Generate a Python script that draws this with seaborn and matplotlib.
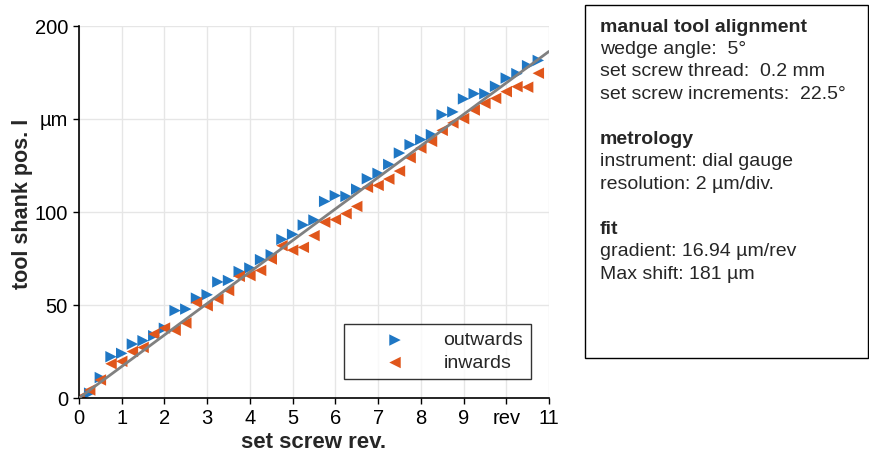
import numpy as np
import pandas as pd
import matplotlib
matplotlib.use("Agg")
import matplotlib.pyplot as plt
import seaborn as sns
from matplotlib.patches import Rectangle

# ---------------- data ----------------
rev_out = [0.0, 0.25, 0.5, 0.75, 1.0, 1.25, 1.5, 1.75, 2.0, 2.25, 2.5, 2.75,
           3.0, 3.25, 3.5, 3.75, 4.0, 4.25, 4.5, 4.75, 5.0, 5.25, 5.5, 5.75,
           6.0, 6.25, 6.5, 6.75, 7.0, 7.25, 7.5, 7.75, 8.0, 8.25, 8.5, 8.75,
           9.0, 9.25, 9.5, 9.75, 10.0, 10.25, 10.5, 10.75]
pos_out = [0.0, 2.6, 11.0, 22.2, 24.0, 29.0, 30.8, 33.5, 37.5, 47.0, 47.8, 53.7,
           55.5, 62.4, 63.2, 68.0, 69.9, 74.4, 77.0, 85.3, 88.0, 93.0, 95.7, 105.7,
           108.8, 108.4, 112.3, 117.9, 120.8, 125.6, 131.7, 136.2, 138.9, 141.6, 152.3, 153.8,
           160.8, 163.6, 163.6, 167.6, 172.0, 174.4, 178.7, 181.5]
rev_in = rev_out
pos_in = [0.0, 4.3, 9.7, 18.4, 19.7, 25.0, 27.2, 34.4, 37.6, 36.4, 40.3, 51.3,
          49.6, 53.2, 57.8, 65.4, 65.8, 68.6, 74.7, 81.9, 79.5, 81.0, 87.3, 94.5,
          95.9, 99.1, 103.0, 113.3, 114.3, 117.7, 122.0, 129.2, 134.4, 138.0, 143.9, 147.9,
          150.2, 154.8, 158.4, 161.1, 164.7, 167.4, 167.1, 174.6]
gradient = 16.94
fit_x = [0.0, 11.0]

x_ticks = list(range(0, 12))
x_ticklabels = ["0", "1", "2", "3", "4", "5", "6", "7", "8", "9", "rev", "11"]
y_ticks = [0, 50, 100, 150, 200]
y_ticklabels = ["0", "50", "100", "µm", "200"]

info_lines = [
    ("manual tool alignment", True),
    ("wedge angle:  5°", False),
    ("set screw thread:  0.2 mm", False),
    ("set screw increments:  22.5°", False),
    ("", False),
    ("metrology", True),
    ("instrument: dial gauge", False),
    ("resolution: 2 µm/div.", False),
    ("", False),
    ("fit", True),
    ("gradient: 16.94 µm/rev", False),
    ("Max shift: 181 µm", False),
]

# ---------------- style ----------------
sns.set_theme(style="white")
plt.rcParams["font.family"] = ["Liberation Sans", "DejaVu Sans"]

BLUE = "#1f77c4"
ORANGE = "#e0561b"

df_out = pd.DataFrame({"rev": rev_out, "pos": pos_out})
df_in = pd.DataFrame({"rev": rev_in, "pos": pos_in})
df_fit = pd.DataFrame({"rev": fit_x, "pos": [gradient * v for v in fit_x]})

fig = plt.figure(figsize=(8.69, 4.61), dpi=100)
ax = fig.add_axes([79 / 869, 63 / 461, 470 / 869, 372 / 461])

sns.lineplot(data=df_fit, x="rev", y="pos", ax=ax, color="#808080", lw=2.0,
             legend=False, zorder=3)
sns.scatterplot(data=df_out, x="rev", y="pos", ax=ax, marker=">", s=68,
                color=BLUE, edgecolor="none", label="outwards", zorder=2)
sns.scatterplot(data=df_in, x="rev", y="pos", ax=ax, marker="<", s=68,
                color=ORANGE, edgecolor="none", label="inwards", zorder=2)

ax.set_xlim(0, 11)
ax.set_ylim(0, 200)
ax.set_xticks(x_ticks)
ax.set_xticklabels(x_ticklabels)
ax.set_yticks(y_ticks)
ax.set_yticklabels(y_ticklabels)
ax.tick_params(axis="both", which="major", direction="out", length=4, width=1,
               labelsize=14.5, colors="black", pad=4, bottom=True, left=True)
ax.grid(True, color="#e6e6e6", lw=1.0)
ax.set_axisbelow(True)
for s in ["top", "right"]:
    ax.spines[s].set_visible(False)
for s in ["left", "bottom"]:
    ax.spines[s].set_color("black")
    ax.spines[s].set_linewidth(1.2)

ax.set_xlabel("set screw rev.", fontsize=16, fontweight="bold", labelpad=3)
ax.set_ylabel("tool shank pos. l", fontsize=15.5, fontweight="bold")
ax.yaxis.set_label_coords(-0.098, 0.522)

leg = ax.legend(loc="lower right", bbox_to_anchor=(0.962, 0.05),
                borderaxespad=0, fontsize=14, frameon=True, fancybox=False,
                handlelength=4.4, handletextpad=0.3, borderpad=0.4,
                labelspacing=0.25)
leg.get_frame().set_edgecolor("black")
leg.get_frame().set_linewidth(1.0)

# ---------------- info box ----------------
W, H = 869, 461
fig.patches.append(Rectangle((585 / W, 1 - 358 / H), (868 - 585) / W, (358 - 5) / H,
                             transform=fig.transFigure, fill=False,
                             edgecolor="black", lw=1.0))
y0 = 27
dy = 22.5
for i, (txt, bold) in enumerate(info_lines):
    if not txt:
        continue
    fig.text(600 / W, 1 - (y0 + i * dy) / H, txt, fontsize=14,
             fontweight="bold" if bold else "normal", va="center", ha="left")

fig.savefig("out.png", dpi=100)
